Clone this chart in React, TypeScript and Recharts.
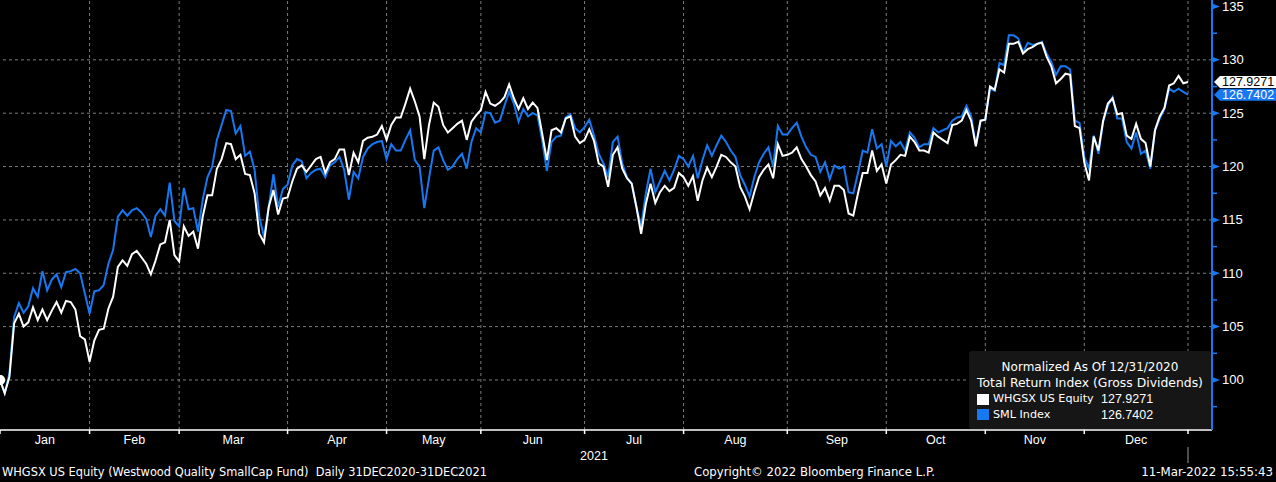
import React from 'react';
import { LineChart, Line, XAxis, YAxis, ReferenceLine } from 'recharts';

const BLUE = '#1679f2';
const GRID = '#7c7c7c';
const TEXT_FONT = '"DejaVu Sans", Tahoma, sans-serif';
const NUM_FONT = '"Liberation Sans", Arial, sans-serif';

// month labels, month-end trading-day indices, label positions (mid-month)
const monthLabels = ['Jan', 'Feb', 'Mar', 'Apr', 'May', 'Jun', 'Jul', 'Aug', 'Sep', 'Oct', 'Nov', 'Dec'];
const monthEnds = [19, 38, 61, 82, 102, 124, 145, 167, 188, 209, 230, 252];
const monthMids = [9.5, 28.5, 49.5, 71.5, 92, 113, 134.5, 156, 177.5, 198.5, 219.5, 241];
const yearLabel = '2021';

const yMajorTicks = [100, 105, 110, 115, 120, 125, 130, 135];
const yMinorTicks = [97.5, 102.5, 107.5, 112.5, 117.5, 122.5, 127.5, 132.5];
const gridValues = [100, 105, 110, 115, 120, 125, 130];
const yDomain: [number, number] = [95.31, 135.61];
const xDomain: [number, number] = [0, 257.09];

const lastWhgsx = 127.9271;
const lastSml = 126.7402;

// WHGSX US Equity (white), daily, 31 Dec 2020 .. 31 Dec 2021
const whgsx = [
  100.0, 98.75, 100.3, 105.3, 106.2, 105.0, 105.4, 106.8, 105.6, 106.6,
  105.6, 106.5, 107.3, 106.3, 107.4, 107.3, 106.6, 104.1, 103.8, 101.7,
  103.7, 104.7, 104.8, 106.7, 107.8, 110.6, 111.2, 110.7, 111.8, 112.1,
  111.5, 110.9, 109.9, 111.2, 112.7, 112.9, 115.0, 111.7, 111.1, 114.4,
  113.5, 113.9, 112.3, 115.3, 117.3, 117.3, 119.8, 120.7, 122.2, 122.1,
  120.7, 121.1, 119.3, 119.2, 117.5, 113.7, 112.9, 116.2, 117.8, 115.5,
  117.0, 117.1, 118.6, 119.8, 120.1, 119.5, 120.1, 120.7, 120.9, 119.4,
  120.4, 120.7, 121.6, 121.6, 119.2, 121.3, 120.4, 122.4, 122.7, 122.8,
  123.0, 123.8, 122.5, 123.9, 124.6, 124.6, 125.9, 127.3, 126.1, 124.7,
  120.7, 123.9, 126.0, 125.6, 123.9, 123.2, 123.6, 124.0, 124.3, 122.5,
  124.2, 124.8, 125.3, 127.0, 125.9, 125.7, 126.0, 126.5, 127.7, 126.4,
  125.4, 126.4, 125.4, 126.0, 125.5, 123.1, 120.6, 123.4, 123.6, 123.2,
  124.5, 124.7, 122.8, 122.2, 122.5, 123.5, 122.4, 120.3, 120.0, 118.1,
  121.1, 121.8, 119.8, 118.9, 118.4, 116.2, 113.7, 116.5, 118.4, 116.6,
  117.6, 118.2, 117.7, 118.0, 119.4, 119.0, 118.2, 119.1, 116.8, 118.7,
  119.9, 119.0, 120.0, 121.1, 120.9, 120.4, 120.0, 118.1, 117.2, 116.0,
  117.6, 119.0, 119.7, 120.2, 118.9, 122.1, 121.0, 121.1, 121.3, 121.8,
  120.7, 120.0, 119.2, 118.6, 117.3, 118.0, 116.8, 118.2, 118.2, 117.8,
  115.6, 115.4, 117.5, 119.4, 119.4, 121.5, 119.6, 120.2, 118.4, 120.2,
  120.6, 121.1, 121.0, 122.8, 122.3, 121.5, 121.5, 121.3, 123.2, 122.8,
  122.5, 122.2, 123.9, 124.0, 124.3, 125.3, 124.3, 121.9, 124.3, 124.4,
  127.5, 127.2, 129.1, 128.8, 131.5, 131.5, 131.7, 130.6, 131.0, 131.2,
  131.5, 131.6, 130.3, 129.4, 127.8, 128.2, 128.7, 128.6, 123.8, 123.6,
  120.4, 118.7, 122.8, 121.5, 124.3, 125.9, 126.4, 124.9, 125.0, 122.9,
  122.6, 124.0, 122.6, 122.2, 120.0, 123.4, 124.7, 125.5, 127.6, 127.8,
  128.5, 127.8, 127.9271,
];

// SML Index (blue)
const sml = [
  100.0, 98.75, 100.6, 105.9, 107.2, 106.3, 106.9, 108.6, 107.8, 110.2,
  108.4, 109.4, 109.9, 108.7, 110.1, 110.2, 110.4, 110.0, 108.1, 106.2,
  108.3, 108.4, 108.9, 110.9, 112.2, 115.3, 115.9, 115.4, 115.9, 116.1,
  115.7, 115.1, 113.4, 115.4, 116.0, 115.4, 118.5, 114.9, 114.4, 118.0,
  116.0, 116.1, 113.9, 116.9, 119.0, 120.0, 122.5, 123.9, 125.3, 125.2,
  123.1, 123.8, 121.0, 121.4, 119.7, 115.3, 113.4, 116.2, 119.3, 116.2,
  117.9, 118.3, 120.1, 120.7, 120.5, 118.9, 119.4, 119.7, 119.8, 119.0,
  120.1, 120.4, 120.9, 119.7, 116.9, 119.5, 118.9, 120.9, 121.7, 122.1,
  122.3, 122.4, 120.7, 122.1, 121.5, 121.5, 122.5, 123.4, 120.6, 120.0,
  116.1, 118.9, 121.5, 121.8, 120.6, 119.7, 120.0, 120.7, 121.2, 119.8,
  122.3, 123.6, 123.2, 125.1, 125.0, 124.1, 124.3, 125.7, 127.0, 125.9,
  124.2, 125.4, 124.7, 125.0, 124.8, 122.5, 119.6, 122.3, 122.8, 122.9,
  124.6, 124.9, 123.6, 123.2, 123.7, 124.4, 122.9, 121.2, 120.3, 119.0,
  122.3, 122.8, 120.3, 119.0, 118.4, 116.2, 114.4, 117.5, 119.8, 117.6,
  118.6, 119.6, 118.7, 119.7, 121.0, 120.7, 120.0, 121.0, 118.9, 120.6,
  122.0, 121.0, 122.0, 122.9, 122.3, 121.5, 120.9, 119.2, 118.3, 117.2,
  119.0, 120.4, 121.2, 121.8, 120.0, 123.8, 123.0, 123.0, 123.6, 124.1,
  122.8, 121.8, 121.1, 120.9, 119.5, 120.4, 118.8, 120.1, 119.8, 120.0,
  117.6, 117.5, 119.4, 121.5, 121.3, 123.5, 121.7, 122.1, 120.0, 122.4,
  121.9, 122.3, 121.5, 123.2, 122.7, 121.8, 122.1, 122.1, 123.6, 123.2,
  123.4, 123.6, 124.3, 124.6, 124.7, 125.7, 124.7, 122.0, 124.3, 124.4,
  127.3, 127.1, 129.7, 129.5, 132.3, 132.3, 132.0, 130.7, 131.6, 131.4,
  131.5, 131.7, 130.6, 129.8, 128.6, 129.4, 129.4, 129.1, 124.3, 124.1,
  120.9, 119.8, 122.9, 121.2, 124.2, 125.7, 126.5, 124.5, 124.5, 122.3,
  121.7, 123.2, 121.2, 121.5, 119.8, 123.4, 124.5, 125.4, 127.3, 127.0,
  127.3, 127.0, 126.7402,
];

const data = whgsx.map((v, i) => ({ day: i, whgsx: v, sml: sml[i] }));

const MonthTick = (props: any) => {
  const { x, y, payload } = props;
  const idx = monthMids.indexOf(payload.value);
  return (
    <text x={x} y={y + 10} textAnchor="middle" dominantBaseline="central" fill="#ffffff"
      fontSize={12.5} fontFamily={NUM_FONT}>
      {monthLabels[idx]}
    </text>
  );
};

const YTick = (props: any) => {
  const { x, y, payload } = props;
  const v = payload.value;
  if (!yMajorTicks.includes(v)) {
    return <line x1={x} x2={x + 5} y1={y} y2={y} stroke={BLUE} strokeWidth={1.5} />;
  }
  return (
    <g>
      <polygon points={`${x},${y - 3} ${x + 8},${y} ${x},${y + 3}`} fill={BLUE} />
      <text x={x + 10} y={y} dominantBaseline="central" fill="#ffffff" fontSize={13} fontFamily={NUM_FONT}>
        {v}
      </text>
    </g>
  );
};

const Flag = (props: any) => {
  const { viewBox, fill, color, text } = props;
  if (!viewBox) return null;
  const x0 = viewBox.x + viewBox.width + 2;
  const cy = viewBox.y;
  const h = 6;
  const pts = `${x0},${cy} ${x0 + 6},${cy - h} 1276,${cy - h} 1276,${cy + h} ${x0 + 6},${cy + h}`;
  return (
    <g>
      <polygon points={pts} fill={fill} />
      <text x={x0 + 8} y={cy + 0.5} dominantBaseline="central" fill={color} fontSize={12.5} fontFamily={NUM_FONT}>
        {text}
      </text>
    </g>
  );
};

const txt: React.CSSProperties = {
  position: 'absolute',
  color: '#ffffff',
  fontFamily: TEXT_FONT,
  fontSize: 12,
  lineHeight: '14px',
  whiteSpace: 'pre',
};

export default function App() {
  const yTicks = [...yMinorTicks, ...yMajorTicks].sort((a, b) => a - b);
  return (
    <div style={{ position: 'absolute', left: 0, top: 0, width: 1276, height: 482, background: '#000', overflow: 'hidden' }}>
      <LineChart width={1276} height={482} data={data} margin={{ top: 0, right: 0, bottom: 30, left: 0 }}>
        <XAxis
          dataKey="day"
          type="number"
          domain={xDomain}
          allowDataOverflow
          ticks={monthMids}
          interval={0}
          tickLine={false}
          tickSize={0}
          tickMargin={0}
          height={22}
          axisLine={{ stroke: '#ffffff', strokeWidth: 1.5 }}
          tick={<MonthTick />}
        />
        <YAxis
          orientation="right"
          width={64}
          domain={yDomain}
          allowDataOverflow
          ticks={yTicks}
          interval={0}
          tickLine={false}
          tickSize={0}
          tickMargin={0}
          axisLine={{ stroke: BLUE, strokeWidth: 2 }}
          tick={<YTick />}
        />
        {gridValues.map((v) => (
          <ReferenceLine key={'h' + v} y={v} stroke={GRID} strokeDasharray="3 3" strokeWidth={1} />
        ))}
        {monthEnds.map((d) => (
          <ReferenceLine key={'v' + d} x={d} stroke={GRID} strokeDasharray="3 3" strokeWidth={1} />
        ))}
        {[0, ...monthEnds].map((d) => (
          <ReferenceLine
            key={'t' + d}
            segment={[{ x: d, y: yDomain[0] }, { x: d, y: yDomain[0] - 0.38 }]}
            stroke="#ffffff"
            strokeWidth={1.5}
            ifOverflow="visible"
          />
        ))}
        <ReferenceLine
          segment={[{ x: monthEnds[monthEnds.length - 1], y: yDomain[0] - 1.6 }, { x: monthEnds[monthEnds.length - 1], y: yDomain[0] - 3.1 }]}
          stroke="#9a9a9a"
          strokeWidth={1}
          ifOverflow="visible"
        />
        <Line type="linear" dataKey="sml" stroke={BLUE} strokeWidth={2} dot={false} isAnimationActive={false} />
        <Line type="linear" dataKey="whgsx" stroke="#ffffff" strokeWidth={2} dot={false} isAnimationActive={false} />
        <ReferenceLine y={lastSml} stroke="none" label={<Flag fill={BLUE} color="#ffffff" text={lastSml.toFixed(4)} />} />
        <ReferenceLine y={lastWhgsx} stroke="none" label={<Flag fill="#ffffff" color="#000000" text={lastWhgsx.toFixed(4)} />} />
      </LineChart>

      <div style={{ ...txt, left: 564, top: 449, width: 60, textAlign: 'center', fontFamily: NUM_FONT, fontSize: 12.5 }}>{yearLabel}</div>

      <div style={{ ...txt, left: 2, top: 465, fontSize: 11.4 }}>WHGSX US Equity (Westwood Quality SmallCap Fund)  Daily 31DEC2020-31DEC2021</div>
      <div style={{ ...txt, left: 694, top: 465, fontSize: 11.7 }}>Copyright© 2022 Bloomberg Finance L.P.</div>
      <div style={{ ...txt, right: 3, top: 465, fontSize: 11.8 }}>11-Mar-2022 15:55:43</div>

      <div style={{ position: 'absolute', left: 969, top: 351, width: 242, height: 78, background: '#161616', borderRadius: 3 }}>
        <div style={{ ...txt, left: 0, top: 9, width: 242, textAlign: 'center' }}>Normalized As Of 12/31/2020</div>
        <div style={{ ...txt, left: 0, top: 25, width: 242, textAlign: 'center', fontSize: 12.4 }}>Total Return Index (Gross Dividends)</div>
        <div style={{ position: 'absolute', left: 8, top: 43, width: 12, height: 11, background: '#ffffff' }} />
        <div style={{ ...txt, left: 24, top: 41, fontSize: 11.2 }}>WHGSX US Equity</div>
        <div style={{ ...txt, left: 132, top: 41, fontFamily: NUM_FONT, fontSize: 12.5 }}>{lastWhgsx.toFixed(4)}</div>
        <div style={{ position: 'absolute', left: 8, top: 58, width: 12, height: 11, background: BLUE }} />
        <div style={{ ...txt, left: 24, top: 57, fontSize: 11.2 }}>SML Index</div>
        <div style={{ ...txt, left: 132, top: 57, fontFamily: NUM_FONT, fontSize: 12.5 }}>{lastSml.toFixed(4)}</div>
      </div>
    </div>
  );
}
